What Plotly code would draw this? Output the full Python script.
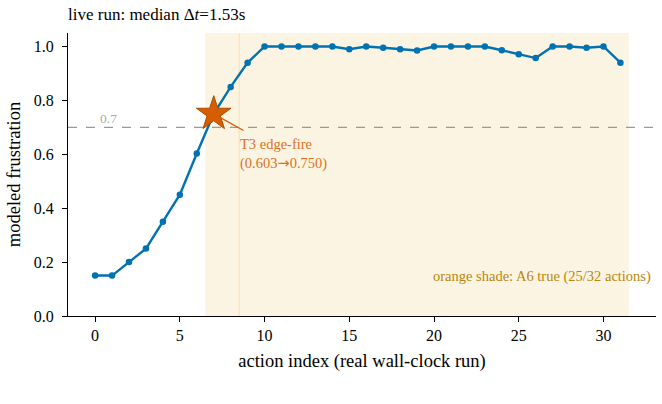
import plotly.graph_objects as go

idx = list(range(32))
frustration = [0.15, 0.15, 0.20, 0.25, 0.35, 0.45, 0.603, 0.75, 0.85, 0.94,
               1.0, 1.0, 1.0, 1.0, 1.0, 0.99, 1.0, 0.995, 0.99, 0.985,
               1.0, 1.0, 1.0, 1.0, 0.986, 0.971, 0.957, 1.0, 1.0, 0.995,
               1.0, 0.94]
threshold = 0.7
fire_idx = 7
fire_val = 0.750
shade_start, shade_end = 6.5, 31.5
marker_line_x = 8.5
x_ticks = [0, 5, 10, 15, 20, 25, 30]
y_ticks = [0.0, 0.2, 0.4, 0.6, 0.8, 1.0]

FONT = "Liberation Serif"
BLUE = "#0072b2"
VERM = "#d55e00"

fig = go.Figure()

fig.add_shape(type="rect", xref="x", yref="y domain", x0=shade_start, x1=shade_end,
              y0=0, y1=1, fillcolor="rgba(230,159,0,0.11)", line_width=0, layer="below")
fig.add_shape(type="line", xref="x", yref="y domain", x0=marker_line_x, x1=marker_line_x,
              y0=0, y1=1, line=dict(color="rgba(240,180,90,0.35)", width=1), layer="below")
fig.add_shape(type="line", xref="paper", yref="y", x0=0, x1=1, y0=threshold, y1=threshold,
              line=dict(color="#999999", width=1.4, dash="dash"), layer="below")

fig.add_trace(go.Scatter(x=idx, y=frustration, mode="lines+markers",
                         line=dict(color=BLUE, width=2.4),
                         marker=dict(color=BLUE, size=6.5), showlegend=False))
fig.add_trace(go.Scatter(x=[fire_idx], y=[fire_val], mode="markers",
                         marker=dict(symbol="star", size=26, color=VERM,
                                     line=dict(color="#b04a00", width=1)),
                         showlegend=False))

fig.add_annotation(x=fire_idx, y=fire_val, ax=8.85, ay=0.685, axref="x", ayref="y",
                   xref="x", yref="y", text="", showarrow=True, arrowhead=0,
                   arrowcolor=VERM, arrowwidth=1.3, standoff=4)
fig.add_annotation(x=8.45, y=0.675, xref="x", yref="y", xanchor="left", yanchor="top",
                   text="T3 edge-fire<br>(0.603<span style='font-family:DejaVu Sans'>→</span>0.750)",
                   showarrow=False, align="left",
                   font=dict(family=FONT, size=14.5, color="#e07020"))
fig.add_annotation(x=0.8, y=threshold, xref="x", yref="y", xanchor="center", yanchor="bottom",
                   text="0.7", showarrow=False, font=dict(family=FONT, size=13.5, color="#aaaaaa"),
                   yshift=-1)
fig.add_annotation(x=0.995, y=0.14, xref="paper", yref="paper", xanchor="right", yanchor="middle",
                   text="orange shade: A6 true (25/32 actions)", showarrow=False,
                   font=dict(family=FONT, size=14.5, color="#b8860b"))

fig.update_layout(
    width=662, height=404,
    margin=dict(l=68, r=6, t=33, b=88),
    paper_bgcolor="white", plot_bgcolor="white",
    font=dict(family=FONT, size=16, color="black"),
    title=dict(text="live run: median Δ<i>t</i>=1.53s", x=68/662, xanchor="left",
               y=1 - 14/404, yanchor="middle", font=dict(family=FONT, size=17)),
    xaxis=dict(range=[-1.6, 33.1], tickvals=x_ticks, showgrid=False, zeroline=False,
               showline=True, linecolor="black", linewidth=1.2, ticks="outside",
               ticklen=5, tickcolor="black", tickfont=dict(size=16),
               title=dict(text="action index (real wall-clock run)", font=dict(size=18.5), standoff=10)),
    yaxis=dict(range=[0, 1.05], tickvals=y_ticks, tickformat=".1f", showgrid=False,
               zeroline=False, showline=True, linecolor="black", linewidth=1.2,
               ticks="outside", ticklen=5, tickcolor="black", tickfont=dict(size=16),
               ticklabelstandoff=5,
               title=dict(text="modeled frustration", font=dict(size=18.5), standoff=8)),
)

fig.write_html("out.html")
